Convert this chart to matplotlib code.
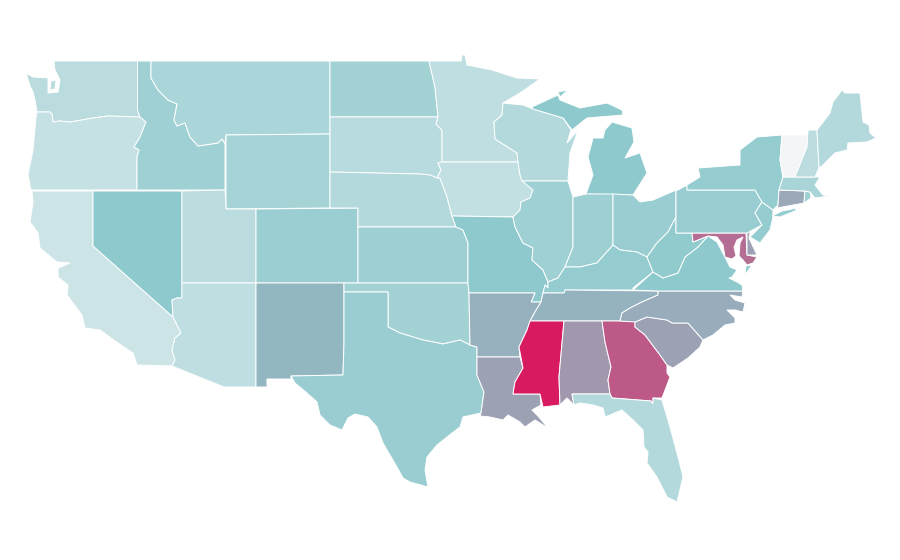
import matplotlib
matplotlib.use("Agg")
import matplotlib.pyplot as plt
from matplotlib.colors import LinearSegmentedColormap

states = ["WA", "OR", "CA", "NV", "ID", "MT", "WY", "UT", "AZ", "CO", "NM", "ND", "SD", "NE", "KS",
          "OK", "TX", "MN", "IA", "MO", "AR", "LA", "WI", "IL", "MI", "IN", "OH", "KY", "TN", "MS",
          "AL", "GA", "FL", "SC", "NC", "VA", "WV", "MD", "DE", "PA", "NJ", "NY", "CT", "RI", "MA",
          "VT", "NH", "ME"]
values = [28, 22, 19, 49, 41, 35, 38, 28, 25, 43, 55, 39, 29, 31, 42,
          39, 44, 25, 24, 49, 57, 61, 31, 41, 49, 42, 44, 46, 56, 100,
          64, 82, 31, 61, 58, 49, 47, 76, 61, 44, 46, 46, 59, 42, 36,
          0, 27, 31]

# state outlines in picture coordinates, there is no geo data to load here
outlines = {
    "WA": [[(54, 61), (137.5, 61), (137.5, 110), (140, 117), (108, 116), (93, 118), (82, 120), (70, 122), (60, 121),
            (53, 122), (52, 114), (50, 112), (37, 112), (35, 100), (33, 92), (30, 86), (26, 73), (33, 77), (48, 78),
            (48, 93), (58, 92), (60, 80), (55, 70)],
           [(51, 81), (56, 80), (55, 89), (50, 90)]],
    "OR": [[(37, 112), (50, 112), (52, 114), (53, 122), (60, 121), (70, 122), (82, 120), (93, 118), (108, 116),
            (140, 117), (146, 122), (140, 137), (134, 147), (139, 150), (137, 157), (137, 190), (31, 190), (28, 175),
            (33, 150), (36, 117)]],
    "CA": [[(32, 191), (93, 191), (93, 246), (173, 317), (181, 333), (175, 338), (172, 350), (175, 360), (172, 366),
            (137, 365), (133, 353), (118, 343), (100, 330), (85, 328), (82, 315), (67, 295), (68, 285), (58, 277),
            (58, 268), (70, 263), (57, 262), (40, 248), (38, 233), (30, 222), (33, 203)]],
    "NV": [[(93, 191), (182, 191), (182, 298), (177, 298), (172, 300), (173, 317), (93, 246)]],
    "ID": [[(137.5, 61), (151, 61), (151, 78), (158, 90), (168, 100), (177, 104), (174, 120), (177, 126), (185, 123),
            (190, 137), (198, 146), (218, 143), (222, 139), (225, 144), (225, 190), (137, 190), (137, 157), (139, 150),
            (134, 147), (140, 137), (146, 122), (140, 117), (137.5, 110)]],
    "MT": [[(151, 61), (330, 61), (330, 134), (226, 135), (225, 144), (222, 139), (218, 143), (198, 146), (190, 137),
            (185, 123), (177, 126), (174, 120), (177, 104), (168, 100), (158, 90), (151, 78)]],
    "WY": [[(226, 135), (330, 134), (330, 208), (226, 209)]],
    "UT": [[(182, 191), (225, 190), (226, 209), (256, 209), (256, 283), (182, 283)]],
    "AZ": [[(182, 283), (256, 283), (256, 387), (224, 387), (172, 366), (175, 360), (172, 350), (175, 338), (181, 333),
            (173, 317), (172, 300), (177, 298), (182, 298)]],
    "CO": [[(256, 209), (358, 208), (358, 283), (256, 283)]],
    "NM": [[(256, 283), (344, 283), (344, 343), (343, 375), (291, 376), (291, 379), (267, 379), (267, 387), (256, 387)]],
    "ND": [[(330, 61), (429, 61), (435, 87), (438, 117), (330, 117)]],
    "SD": [[(330, 117), (438, 117), (436, 124), (442, 130), (442, 162), (438, 163), (441, 170), (437, 178), (430, 175),
            (420, 174), (330, 172)]],
    "NE": [[(330, 172), (420, 174), (430, 175), (437, 178), (440, 178), (447, 197), (452, 216), (456, 227), (358, 227),
            (358, 208), (330, 208)]],
    "KS": [[(358, 227), (456, 227), (463, 230), (468, 243), (468, 283), (358, 283)]],
    "OK": [[(344, 283), (468, 283), (469, 293), (470, 345), (460, 340), (443, 344), (423, 340), (400, 333), (388, 327),
            (388, 292), (344, 292)]],
    "TX": [[(344, 292), (388, 292), (388, 327), (400, 333), (423, 340), (443, 344), (460, 340), (470, 345), (477, 347),
            (477, 375), (484, 392), (481, 413), (463, 417), (460, 427), (447, 437), (437, 445), (427, 457), (425, 470),
            (428, 487), (410, 482), (403, 478), (397, 467), (383, 443), (377, 427), (368, 417), (355, 414), (348, 418),
            (342, 430), (330, 425), (320, 415), (317, 402), (307, 393), (295, 383), (291, 376), (343, 375), (344, 343)]],
    "MN": [[(429, 61), (461, 61), (462, 55), (465, 55), (467, 65), (492, 70), (517, 78), (540, 79), (520, 93), (503, 103),
            (502, 115), (494, 122), (495, 139), (517, 153), (518, 162), (442, 162), (442, 130), (436, 124), (438, 117),
            (435, 87)]],
    "IA": [[(442, 162), (518, 162), (520, 175), (533, 190), (530, 198), (521, 202), (520, 210), (513, 217), (452, 216),
            (447, 197), (440, 178), (437, 178), (441, 170), (438, 163)]],
    "MO": [[(452, 216), (513, 217), (515, 227), (523, 243), (533, 248), (532, 260), (543, 270), (548, 282), (548, 288),
            (545, 285), (543, 293), (541, 302), (531, 302), (535, 293), (469, 293), (468, 283), (468, 243), (463, 230),
            (456, 227)]],
    "AR": [[(469, 293), (535, 293), (531, 302), (541, 302), (535, 312), (530, 321), (527, 330), (519, 347), (520, 357),
            (477, 357), (477, 347), (470, 345)]],
    "LA": [[(477, 357), (520, 357), (523, 368), (515, 382), (513, 394), (540, 394), (541, 405), (532, 410), (537, 415),
            (543, 422), (548, 428), (535, 420), (525, 427), (520, 422), (508, 415), (503, 420), (490, 417), (480, 416),
            (481, 413), (484, 392), (477, 375)]],
    "WI": [[(503, 103), (523, 105), (533, 109), (563, 118), (571, 130), (567, 143), (578, 130), (570, 153), (568, 181),
            (522, 181), (520, 175), (518, 162), (517, 153), (495, 139), (494, 122), (502, 115)]],
    "IL": [[(522, 181), (568, 181), (573, 197), (573, 247), (565, 267), (558, 278), (548, 282), (543, 270), (532, 260),
            (533, 248), (523, 243), (515, 227), (513, 217), (520, 210), (521, 202), (530, 198), (533, 190)]],
    "MI": [[(532, 107), (558, 95), (560, 100), (580, 108), (607, 103), (622, 110), (623, 115), (587, 118), (572, 130),
            (563, 118), (533, 109)],
           [(612, 122), (632, 128), (634, 142), (625, 158), (640, 153), (647, 173), (633, 195), (586, 194), (593, 175),
            (588, 157), (593, 138), (603, 138), (605, 130)],
           [(558, 92), (568, 90), (560, 97)]],
    "IN": [[(573, 197), (586, 194), (613, 194), (613, 245), (597, 263), (580, 267), (565, 267), (573, 247)]],
    "OH": [[(613, 194), (633, 195), (640, 202), (653, 200), (676, 190), (676, 217), (668, 232), (657, 243), (647, 257),
            (637, 252), (620, 250), (613, 245)]],
    "KY": [[(548, 288), (548, 282), (558, 278), (565, 267), (580, 267), (597, 263), (613, 245), (620, 250), (637, 252),
            (647, 257), (653, 272), (633, 288), (633, 290), (565, 290), (564, 293), (543, 293), (545, 285)]],
    "TN": [[(543, 293), (564, 293), (565, 290), (658, 291), (658, 295), (642, 302), (630, 308), (622, 313), (620, 321),
            (530, 321), (535, 312), (541, 302)]],
    "MS": [[(530, 321), (564, 321), (559, 377), (560, 405), (543, 407), (540, 394), (513, 394), (515, 382), (523, 368),
            (519, 347), (527, 330)]],
    "AL": [[(564, 321), (602, 321), (605, 342), (611, 367), (608, 380), (610, 394), (572, 394), (574, 405), (567, 398),
            (560, 405), (559, 377)]],
    "GA": [[(602, 321), (635, 321), (635, 327), (645, 335), (660, 355), (667, 365), (667, 373), (670, 377), (662, 398),
            (653, 398), (653, 404), (651, 401), (612, 398), (610, 394), (608, 380), (611, 367), (605, 342)]],
    "FL": [[(572, 394), (610, 394), (612, 398), (651, 401), (653, 404), (653, 398), (662, 400), (670, 427), (678, 457),
            (683, 477), (677, 502), (667, 497), (657, 477), (647, 463), (648, 452), (644, 447), (643, 430), (633, 420),
            (622, 410), (605, 417), (603, 408), (593, 405), (580, 403), (574, 405)]],
    "SC": [[(635, 322), (647, 317), (667, 320), (672, 323), (688, 323), (703, 340), (700, 347), (688, 358), (673, 368),
            (667, 365), (660, 355), (645, 335), (635, 327)]],
    "NC": [[(658, 291), (743, 291), (742, 297), (730, 295), (735, 300), (745, 303), (743, 312), (735, 310), (727, 310),
            (735, 318), (735, 323), (725, 325), (713, 335), (703, 340), (688, 323), (672, 323), (667, 320), (647, 317),
            (635, 322), (620, 321), (622, 313), (630, 308), (642, 302), (658, 295)]],
    "VA": [[(633, 290), (653, 272), (663, 278), (678, 273), (685, 257), (698, 247), (708, 236), (717, 242), (725, 257),
            (730, 267), (737, 270), (732, 277), (729, 278), (737, 282), (742, 285), (743, 291), (658, 291)],
           [(752, 265), (745, 275), (746, 266)]],
    "WV": [[(647, 257), (657, 243), (668, 232), (676, 217), (676, 233), (692, 233), (693, 242), (708, 236), (698, 247),
            (685, 257), (678, 273), (663, 278), (653, 272)]],
    "MD": [[(692, 233), (746, 233), (747, 255), (757, 257), (753, 263), (747, 265), (743, 260), (739, 256), (740, 243),
            (743, 237), (737, 240), (734, 247), (736, 256), (732, 259), (725, 257), (723, 245), (717, 237), (708, 236),
            (693, 242)]],
    "DE": [[(747, 230), (750, 232), (749, 238), (757, 255), (747, 255)]],
    "PA": [[(676, 191), (687, 185), (687, 190), (755, 190), (762, 202), (755, 213), (762, 225), (747, 233), (676, 233)]],
    "NJ": [[(762, 202), (773, 210), (773, 217), (770, 230), (760, 243), (750, 237), (762, 225), (755, 213)]],
    "NY": [[(687, 185), (700, 177), (698, 168), (740, 165), (740, 150), (757, 137), (782, 135), (780, 160), (783, 177),
            (779, 190), (778, 205), (773, 210), (762, 202), (755, 190), (687, 190)],
           [(772, 216), (782, 211), (797, 208), (795, 211), (780, 217)]],
    "CT": [[(779, 190), (805, 191), (804, 203), (777, 208), (778, 205)]],
    "RI": [[(805, 191), (810, 192), (811, 198), (804, 203)]],
    "MA": [[(783, 177), (815, 177), (820, 177), (815, 185), (823, 195), (830, 196), (815, 198), (810, 192), (805, 191),
            (779, 190)]],
    "VT": [[(782, 135), (808, 135), (807, 147), (795, 177), (783, 177), (780, 160)]],
    "NH": [[(808, 130), (817, 130), (819, 168), (815, 177), (795, 177), (807, 147)]],
    "ME": [[(817, 130), (830, 113), (833, 102), (842, 90), (845, 93), (860, 93), (863, 122), (869, 125), (870, 133),
            (876, 138), (867, 142), (848, 143), (847, 150), (835, 153), (823, 165), (819, 168)]],
}

cmap = LinearSegmentedColormap.from_list("teal_pink", ["#f3f5f6", "#8cc8cc", "#d81b60"])

fig = plt.figure(figsize=(9, 5.6), dpi=100)
ax = fig.add_axes([0, 0, 1, 1])
ax.set_xlim(0, 900)
ax.set_ylim(560, 0)
ax.axis("off")

for state, value in zip(states, values):
    for ring in outlines[state]:
        xs = [p[0] for p in ring]
        ys = [p[1] for p in ring]
        ax.fill(xs, ys, facecolor=cmap(value / 100), edgecolor="white", linewidth=0.7)

fig.savefig("out.png", dpi=100)
